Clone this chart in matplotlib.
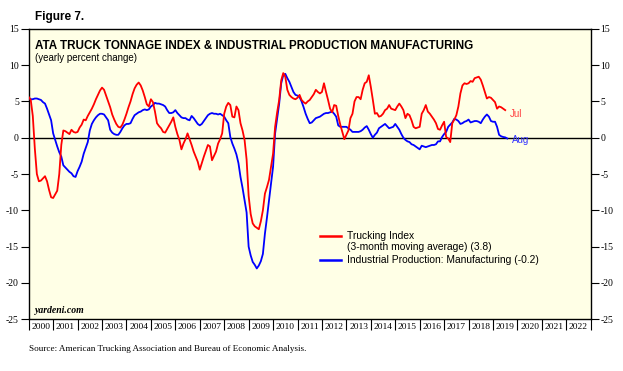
import numpy as np
import matplotlib
matplotlib.use("Agg")
import matplotlib.pyplot as plt
from matplotlib.lines import Line2D

# ---- data (monthly, Jan 2000 onward) ----
trucking = [
    5.6, 5.2, 3.0, -1.5, -5.0, -6.0, -5.9, -5.6, -5.3, -6.0, -7.2, -8.2,   # 2000
    -8.3, -7.8, -7.3, -5.0, -1.0, 1.0, 0.9, 0.7, 0.5, 1.1, 0.8, 0.7,      # 2001
    0.8, 1.4, 1.8, 2.5, 2.4, 3.0, 3.5, 4.0, 4.6, 5.3, 5.9, 6.5,           # 2002
    6.9, 6.6, 5.8, 5.0, 4.2, 3.2, 2.5, 1.9, 1.5, 1.4, 1.8, 2.5,           # 2003
    3.3, 4.2, 5.0, 6.0, 6.8, 7.3, 7.6, 7.2, 6.5, 5.6, 4.6, 4.3,           # 2004
    5.3, 4.9, 3.6, 2.0, 1.6, 1.3, 0.8, 0.7, 1.2, 1.7, 2.2, 2.8,           # 2005
    1.5, 0.5, -0.3, -1.6, -0.8, -0.2, 0.6, -0.2, -1.0, -1.9, -2.6, -3.3,  # 2006
    -4.4, -3.5, -2.6, -1.8, -1.0, -1.2, -3.1, -2.5, -1.9, -0.8, -0.2, 0.6,  # 2007
    3.3, 4.3, 4.8, 4.5, 2.9, 2.8, 4.3, 3.8, 2.0, 1.0, -0.3, -3.0,         # 2008
    -8.0, -10.5, -11.8, -12.2, -12.4, -12.6, -11.5, -10.0, -7.7, -6.8, -5.8, -4.0,  # 2009
    -2.2, 1.5, 3.5, 5.2, 7.9, 8.9, 8.4, 6.6, 5.9, 5.6, 5.4, 5.3,          # 2010
    5.5, 5.9, 5.2, 4.9, 4.7, 5.0, 5.2, 5.6, 6.0, 6.6, 6.3, 6.1,           # 2011
    6.3, 7.5, 6.3, 5.2, 4.0, 3.5, 4.5, 4.4, 3.0, 1.8, 0.8, -0.2,          # 2012
    0.4, 1.0, 2.7, 3.3, 5.0, 5.6, 5.6, 5.3, 6.6, 7.5, 7.7, 8.6,           # 2013
    7.0, 5.2, 3.3, 3.4, 2.9, 3.0, 3.3, 3.8, 4.0, 4.5, 4.0, 3.9,           # 2014
    3.8, 4.3, 4.7, 4.3, 3.8, 2.7, 3.3, 3.1, 2.4, 1.5, 1.3, 1.4,           # 2015
    1.5, 3.3, 3.8, 4.5, 3.6, 3.3, 2.9, 2.5, 2.0, 1.2, 1.1, 1.7,           # 2016
    2.2, 0.1, -0.1, -0.6, 2.0, 2.5, 3.1, 4.3, 6.1, 7.2, 7.5, 7.4,         # 2017
    7.5, 7.8, 7.7, 8.2, 8.3, 8.4, 8.0, 7.2, 6.3, 5.4, 5.6, 5.5,           # 2018
    5.2, 4.9, 4.0, 4.3, 4.2, 4.0, 3.8,                                    # 2019 (to Jul)
]

ip_manufacturing = [
    5.5, 5.3, 5.3, 5.4, 5.4, 5.3, 5.2, 4.9, 4.7, 4.0, 3.2, 2.4,           # 2000
    0.6, -0.3, -1.2, -2.0, -2.6, -3.8, -4.1, -4.4, -4.7, -4.9, -5.3, -5.4,  # 2001
    -4.6, -4.0, -3.3, -2.2, -1.4, -0.6, 1.0, 1.9, 2.4, 2.8, 3.1, 3.3,     # 2002
    3.3, 3.2, 2.8, 2.4, 1.1, 0.7, 0.5, 0.4, 0.4, 0.8, 1.3, 1.7,           # 2003
    1.9, 1.9, 2.0, 2.6, 3.1, 3.3, 3.5, 3.6, 3.8, 3.9, 3.8, 3.9,           # 2004
    4.3, 4.5, 4.8, 4.7, 4.7, 4.6, 4.5, 4.3, 3.8, 3.4, 3.4, 3.5,           # 2005
    3.8, 3.4, 3.1, 2.8, 2.7, 2.7, 2.5, 2.4, 3.0, 2.7, 2.3, 1.9,           # 2006
    1.7, 1.9, 2.3, 2.7, 3.1, 3.3, 3.4, 3.3, 3.3, 3.2, 3.3, 3.1,           # 2007
    2.9, 2.4, 2.0, 0.1, -0.8, -1.5, -2.3, -3.5, -5.4, -6.9, -8.6, -10.3,  # 2008
    -15.0, -16.2, -17.1, -17.5, -18.0, -17.6, -17.0, -16.0, -13.2, -11.0, -8.6, -6.3,  # 2009
    -4.0, 0.6, 2.7, 4.7, 7.5, 8.6, 8.8, 8.2, 7.7, 7.0, 6.3, 5.9,          # 2010
    5.8, 5.6, 5.0, 4.2, 3.3, 2.6, 2.0, 2.1, 2.4, 2.7, 2.8, 2.9,           # 2011
    3.1, 3.3, 3.4, 3.4, 3.5, 3.6, 3.3, 2.9, 1.7, 1.5, 1.5, 1.5,           # 2012
    1.5, 1.3, 1.1, 0.8, 0.8, 0.8, 0.8, 0.9, 1.1, 1.4, 1.6, 1.1,           # 2013
    0.5, 0.0, 0.4, 0.7, 1.3, 1.5, 1.7, 1.9, 1.6, 1.3, 1.4, 1.5,           # 2014
    1.9, 1.5, 1.1, 0.5, 0.0, -0.3, -0.5, -0.6, -0.9, -1.0, -1.2, -1.4,    # 2015
    -1.6, -1.1, -1.2, -1.3, -1.2, -1.1, -1.0, -1.0, -0.9, -0.5, -0.5, 0.1,  # 2016
    0.5, 0.8, 1.5, 1.8, 2.1, 2.6, 2.5, 2.3, 1.9, 2.0, 2.2, 2.3,           # 2017
    2.5, 2.1, 2.2, 2.3, 2.3, 2.2, 2.0, 2.5, 2.9, 3.2, 2.9, 2.3,           # 2018
    2.2, 2.2, 1.5, 0.4, 0.2, 0.1, 0.05, -0.1,                             # 2019 (to Aug)
]

start_year = 2000
years = list(range(2000, 2023))
y_ticks = [15, 10, 5, 0, -5, -10, -15, -20, -25]

truck_x = start_year + np.arange(len(trucking)) / 12.0
ip_x = start_year + np.arange(len(ip_manufacturing)) / 12.0

RED = "#ff0000"
BLUE = "#0000ff"
SERIF = ["Liberation Serif", "DejaVu Serif"]
SANS = ["Liberation Sans", "DejaVu Sans"]

fig = plt.figure(figsize=(6.23, 3.71), dpi=100)
fig.patch.set_facecolor("white")
ax = fig.add_axes([0.0461, 0.1394, 0.9021, 0.7830])
ax.set_facecolor("#ffffe6")

ax.axhline(0, color="black", lw=1.0, zorder=1)
ax.plot(ip_x, ip_manufacturing, color=BLUE, lw=1.3, zorder=3)
ax.plot(truck_x, trucking, color=RED, lw=1.3, zorder=4)

ax.set_xlim(2000, 2023)
ax.set_ylim(-25, 15)

# y axis both sides
ax.set_yticks(y_ticks)
ax.set_yticklabels([str(t) for t in y_ticks], fontfamily=SERIF, fontsize=7)
ax.tick_params(axis="y", which="major", direction="out", length=6, width=0.8,
               left=True, right=True, labelleft=True, labelright=True, pad=1)
for lab in ax.get_yticklabels():
    lab.set_fontfamily(SERIF)

# x axis: separators at year boundaries, labels at mid-year
ax.set_xticks(years + [2023])
ax.set_xticklabels([])
ax.set_xticks([y + 0.5 for y in years], minor=True)
ax.set_xticklabels([str(y) for y in years], minor=True, fontfamily=SERIF, fontsize=6.8)
ax.tick_params(axis="x", which="major", direction="out", length=8, width=0.8)
ax.tick_params(axis="x", which="minor", length=0, pad=3)

for s in ax.spines.values():
    s.set_linewidth(1.0)
    s.set_color("black")

# end labels
ax.text(truck_x[-1] + 0.2, trucking[-1] - 0.5, "Jul", color="#ff4040",
        fontsize=7, fontfamily=SANS, va="center", ha="left")
ax.text(ip_x[-1] + 0.2, ip_manufacturing[-1] - 0.25, "Aug", color="#3333ff",
        fontsize=7, fontfamily=SANS, va="center", ha="left")

# titles
fig.text(35 / 623, 1 - 17 / 371, "Figure 7.", fontsize=8.5, fontweight="bold",
         fontfamily=SANS, va="center", ha="left")
ax.text(0.011, 0.963, "ATA TRUCK TONNAGE INDEX & INDUSTRIAL PRODUCTION MANUFACTURING",
        transform=ax.transAxes, fontsize=8.4, fontweight="bold", fontfamily=SANS,
        va="top", ha="left")
ax.text(0.011, 0.915, "(yearly percent change)", transform=ax.transAxes,
        fontsize=7, fontfamily=SANS, va="top", ha="left")
ax.text(0.011, 0.015, "yardeni.com", transform=ax.transAxes, fontsize=7,
        fontstyle="italic", fontweight="bold", fontfamily=SERIF, va="bottom", ha="left")
fig.text(29 / 623, 1 - 349 / 371,
         "Source: American Trucking Association and Bureau of Economic Analysis.",
         fontsize=6.6, fontfamily=SERIF, va="center", ha="left")

# legend
handles = [Line2D([], [], color=RED, lw=1.8), Line2D([], [], color=BLUE, lw=1.8)]
labels = ["Trucking Index", "Industrial Production: Manufacturing (-0.2)"]
leg = ax.legend(handles, labels, loc="upper left", bbox_to_anchor=(0.518, 0.303),
                frameon=False, handlelength=2.1, handletextpad=0.5,
                labelspacing=1.35, borderpad=0, borderaxespad=0,
                prop={"family": SANS, "size": 7.4})
ax.text(0.5663, 0.2499, "(3-month moving average) (3.8)", transform=ax.transAxes,
        fontsize=7.4, fontfamily=SANS, va="center", ha="left")

fig.savefig("out.png", dpi=100)
